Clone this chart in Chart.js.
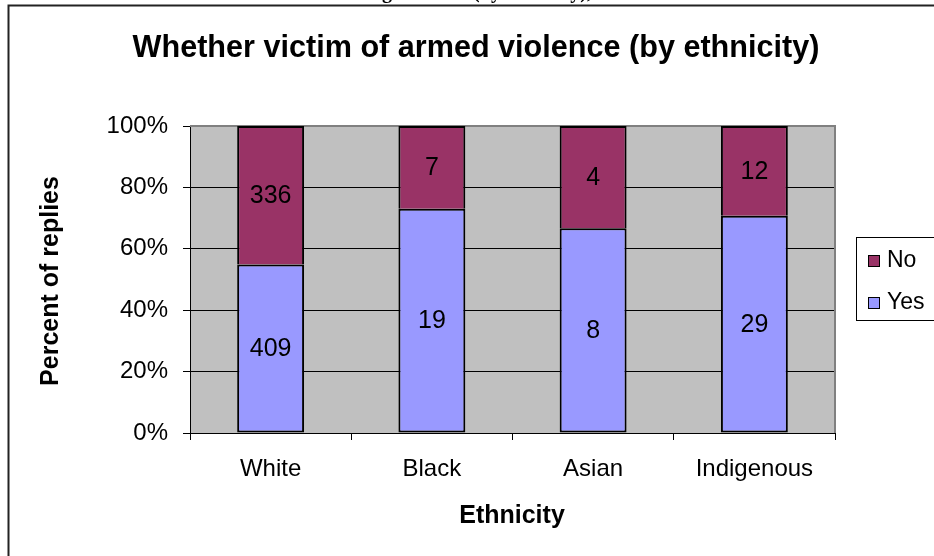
<body style="margin: 0; background-color: #fff">
    <canvas id="chart" width="934" height="556"></canvas>
</body>

<script src="https://cdn.jsdelivr.net/npm/chart.js@4.4.0/dist/chart.umd.min.js"></script>

<script>
    /*
     * Data (counts of replies per ethnicity)
     */
    const categories = ['White', 'Black', 'Asian', 'Indigenous'];
    const yesCounts = [409, 19, 8, 29];
    const noCounts = [336, 7, 4, 12];
    const yTickValues = [0, 20, 40, 60, 80, 100];

    const titleText = 'Whether victim of armed violence (by ethnicity)';
    const xTitle = 'Ethnicity';
    const yTitle = 'Percent of replies';

    // 100% stacked: each segment as share of the category total
    const totals = yesCounts.map((v, i) => v + noCounts[i]);
    const yesPct = yesCounts.map((v, i) => v / totals[i] * 100);
    const noPct = noCounts.map((v, i) => v / totals[i] * 100);

    const fontFamily = '"Liberation Sans", Arial, sans-serif';

    const decorations = {
        id: 'decorations',
        beforeDraw(chart) {
            const ctx = chart.ctx;
            const a = chart.chartArea;
            ctx.save();
            // cut-off caption above the frame
            ctx.fillStyle = '#000';
            ctx.font = 'bold 20px "Liberation Serif", "Times New Roman", serif';
            ctx.textAlign = 'right';
            ctx.textBaseline = 'alphabetic';
            ctx.fillText('Victims of armed violence among students (by ethnicity),', 592, -2);
            // outer frame
            ctx.strokeStyle = '#222';
            ctx.lineWidth = 2;
            ctx.beginPath();
            ctx.moveTo(934, 5.5);
            ctx.lineTo(8.5, 5.5);
            ctx.lineTo(8.5, 556);
            ctx.stroke();
            // plot area
            ctx.fillStyle = '#c0c0c0';
            ctx.fillRect(a.left, a.top, a.right - a.left, a.bottom - a.top);
            ctx.restore();
        },
        beforeDatasetsDraw(chart) {
            const ctx = chart.ctx;
            const a = chart.chartArea;
            ctx.save();
            ctx.strokeStyle = '#808080';
            ctx.lineWidth = 2;
            ctx.beginPath();
            ctx.moveTo(a.left, a.top);
            ctx.lineTo(a.right, a.top);
            ctx.lineTo(a.right, a.bottom);
            ctx.stroke();
            ctx.restore();
        },
        afterDatasetsDraw(chart) {
            const ctx = chart.ctx;
            ctx.save();
            ctx.fillStyle = '#000';
            ctx.font = '25px ' + fontFamily;
            ctx.textAlign = 'center';
            ctx.textBaseline = 'middle';
            const counts = [yesCounts, noCounts];
            chart.data.datasets.forEach((ds, di) => {
                chart.getDatasetMeta(di).data.forEach((bar, i) => {
                    ctx.fillText(String(counts[di][i]), bar.x, (bar.y + bar.base) / 2 + 1);
                });
            });
            ctx.restore();
        },
        afterDraw(chart) {
            const ctx = chart.ctx;
            ctx.save();
            ctx.fillStyle = '#000';
            ctx.textBaseline = 'middle';
            ctx.textAlign = 'center';

            ctx.font = 'bold 30.6px ' + fontFamily;
            ctx.fillText(titleText, 476, 49);

            ctx.font = 'bold 25px ' + fontFamily;
            ctx.fillText(xTitle, 512, 516);

            ctx.save();
            ctx.translate(51, 281);
            ctx.rotate(-Math.PI / 2);
            ctx.font = 'bold 25px ' + fontFamily;
            ctx.fillText(yTitle, 0, 0);
            ctx.restore();

            // legend (No on top, Yes below)
            ctx.strokeStyle = '#000';
            ctx.lineWidth = 1;
            ctx.strokeRect(856.5, 237.5, 100, 83);
            const items = [
                { label: 'No', color: chart.data.datasets[1].backgroundColor, y: 260 },
                { label: 'Yes', color: chart.data.datasets[0].backgroundColor, y: 302 }
            ];
            ctx.font = '23px ' + fontFamily;
            ctx.textAlign = 'left';
            items.forEach(it => {
                ctx.fillStyle = it.color;
                ctx.fillRect(868, it.y - 5, 12, 12);
                ctx.strokeRect(868.5, it.y - 4.5, 11, 11);
                ctx.fillStyle = '#000';
                ctx.fillText(it.label, 887, it.y + 1);
            });
            ctx.restore();
        }
    };

    new Chart(document.getElementById('chart'), {
        type: 'bar',
        data: {
            labels: categories,
            datasets: [
                {
                    label: 'Yes',
                    data: yesPct,
                    backgroundColor: '#9999ff',
                    borderColor: '#000',
                    borderWidth: { left: 2, right: 2, bottom: 2, top: 2 },
                    borderSkipped: false,
                    barPercentage: 0.415,
                    categoryPercentage: 1
                },
                {
                    label: 'No',
                    data: noPct,
                    backgroundColor: '#993366',
                    borderColor: '#000',
                    borderWidth: { left: 2, right: 2, bottom: 0, top: 2 },
                    borderSkipped: false,
                    barPercentage: 0.415,
                    categoryPercentage: 1
                }
            ]
        },
        options: {
            responsive: false,
            animation: false,
            layout: { padding: { left: 0, top: 126, right: 99, bottom: 0 } },
            plugins: {
                legend: { display: false },
                tooltip: { enabled: false }
            },
            scales: {
                x: {
                    stacked: true,
                    afterFit: s => { s.height = 123; },
                    grid: {
                        offset: true,
                        drawOnChartArea: false,
                        tickLength: 7,
                        tickColor: '#000'
                    },
                    border: { color: '#000', width: 1 },
                    ticks: {
                        color: '#000',
                        padding: 15,
                        font: { family: fontFamily, size: 24 }
                    }
                },
                y: {
                    stacked: true,
                    min: 0,
                    max: 100,
                    afterFit: s => { s.width = 190; },
                    afterBuildTicks: s => { s.ticks = yTickValues.map(v => ({ value: v })); },
                    grid: {
                        color: c => (c.tick && c.tick.value === 100) ? 'rgba(0,0,0,0)' : '#000',
                        tickLength: 7,
                        tickColor: '#000'
                    },
                    border: { color: '#000', width: 1 },
                    ticks: {
                        color: '#000',
                        padding: 15,
                        font: { family: fontFamily, size: 24 },
                        callback: v => v + '%'
                    }
                }
            }
        },
        plugins: [decorations]
    });
</script>
